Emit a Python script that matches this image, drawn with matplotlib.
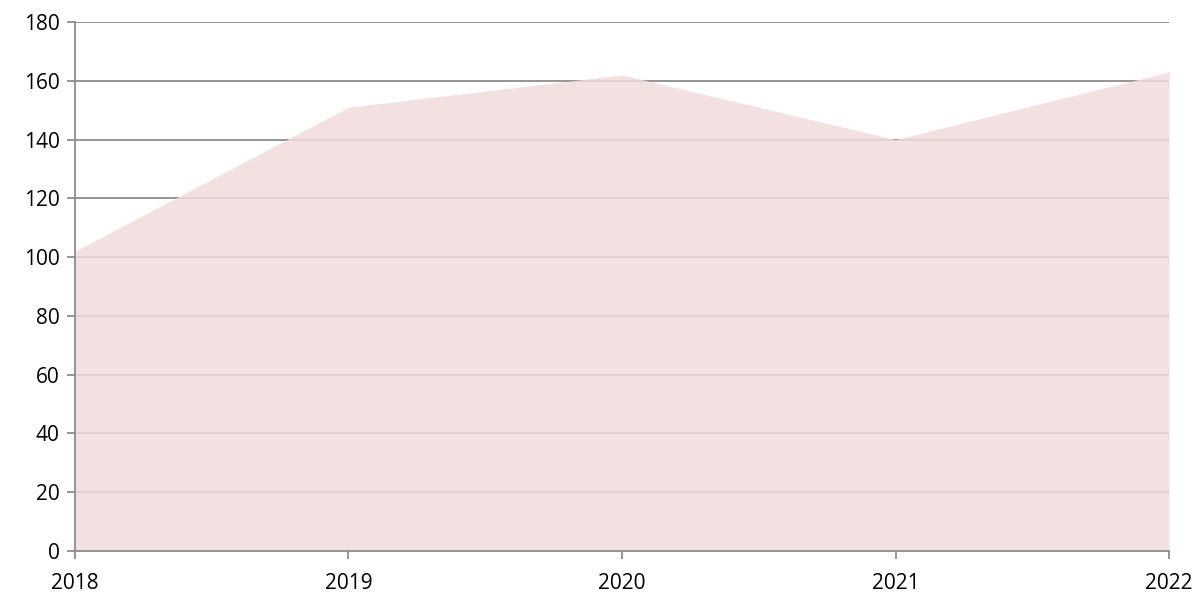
import matplotlib
matplotlib.use("Agg")
import matplotlib.pyplot as plt

# datos
years = [2018, 2019, 2020, 2021, 2022]
values = [102, 151, 162, 140, 163]
y_ticks = [0, 20, 40, 60, 80, 100, 120, 140, 160, 180]

plt.rcParams['font.family'] = ['Open Sans', 'DejaVu Sans']

fig = plt.figure(figsize=(12.01, 6.01), dpi=100)
ax = fig.add_axes([0.0624, 0.0832, 0.911, 0.8802])

ax.set_xlim(years[0], years[-1])
ax.set_ylim(0, 180)
ax.set_xticks(years)
ax.set_yticks(y_ticks)

# rejilla por debajo del área
ax.set_axisbelow(True)
ax.yaxis.grid(True, color='#8c8c8c', lw=1.3)
ax.fill_between(years, values, 0, color='#f2dcdc', alpha=0.85, lw=0, zorder=2)

for s in ['top', 'right']:
    ax.spines[s].set_visible(False)
for s in ['left', 'bottom']:
    ax.spines[s].set_color('#8c8c8c')
    ax.spines[s].set_linewidth(1.3)
    ax.spines[s].set_zorder(3)

ax.tick_params(axis='both', colors='#8c8c8c', labelcolor='black', length=6, width=1.3, labelsize=15)
ax.tick_params(axis='y', pad=5)
ax.tick_params(axis='x', pad=10)

fig.savefig("out.png", dpi=100)
